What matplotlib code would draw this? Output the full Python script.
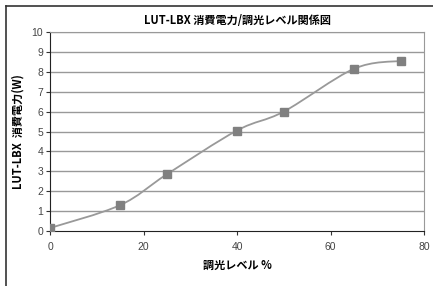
import matplotlib
matplotlib.use("Agg")
from matplotlib import pyplot as plt
from matplotlib.path import Path
from matplotlib.patches import PathPatch
from matplotlib.lines import Line2D
import numpy as np

plt.rcParams['font.family'] = ['Noto Sans CJK JP', 'DejaVu Sans']

# dimming level (%) vs power (W)
level = [0, 15, 25, 40, 50, 65, 75]
power = [0.15, 1.3, 2.85, 5.05, 6.0, 8.15, 8.55]

title = "LUT-LBX 消費電力/調光レベル関係図"
xlabel = "調光レベル %"
ylabel = "LUT-LBX  消費電力(W)"
xticks = [0, 20, 40, 60, 80]
yticks = list(range(0, 11))

fig = plt.figure(figsize=(4.33, 2.86), dpi=100)
ax = fig.add_axes([50/433, 55/286, 374/433, 199/286])

for y in yticks[1:]:
    ax.axhline(y, color="#999999", lw=1.0, zorder=1)

# smoothed line like the spreadsheet's "smoothed line" option
pts = np.column_stack([level, power]).astype(float)
n = len(pts)
verts = [pts[0]]
codes = [Path.MOVETO]
for i in range(n - 1):
    p0 = pts[max(i - 1, 0)]
    p1 = pts[i]
    p2 = pts[i + 1]
    p3 = pts[min(i + 2, n - 1)]
    c1 = p1 + (p2 - p0) / 6.0
    c2 = p2 - (p3 - p1) / 6.0
    verts += [c1, c2, p2]
    codes += [Path.CURVE4] * 3
ax.add_patch(PathPatch(Path(verts, codes), fill=False, edgecolor="#999999", lw=1.3, zorder=2))
ax.plot(level, power, ls="none", marker="s", ms=6, color="#808080", zorder=3)

ax.set_xlim(0, 80)
ax.set_ylim(0, 10)
ax.set_xticks(xticks)
ax.set_yticks(yticks)
ax.tick_params(labelsize=7.5, labelcolor="#444444", length=3, width=0.8, color="#333333")
for lab in ax.get_xticklabels() + ax.get_yticklabels():
    lab.set_family(['Liberation Sans', 'DejaVu Sans'])
ax.tick_params(axis='x', pad=5)
ax.tick_params(axis='y', pad=2)

ax.spines['left'].set_color("#222222")
ax.spines['bottom'].set_color("#222222")
ax.spines['top'].set_color("#999999")
ax.spines['right'].set_color("#999999")

ax.set_title(title, fontsize=8, fontweight="bold", pad=6)
ax.set_xlabel(xlabel, fontsize=8, fontweight="bold", labelpad=5)
ax.set_ylabel(ylabel, fontsize=8, fontweight="bold", labelpad=5)

# outer chart border (left and top edges visible)
fig.add_artist(Line2D([6/433, 6/433], [0, 1 - 6/286], color="#333333", lw=1.2))
fig.add_artist(Line2D([6/433, 1], [1 - 6/286, 1 - 6/286], color="#333333", lw=1.2))

fig.savefig("out.png", dpi=100)
